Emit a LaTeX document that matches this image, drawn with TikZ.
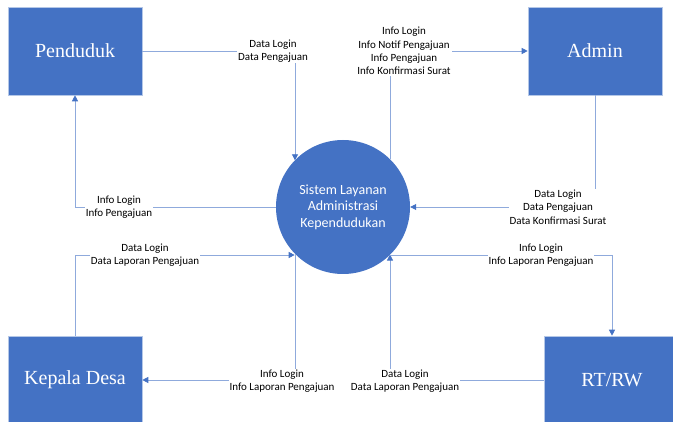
\documentclass[tikz,border=0pt]{standalone}
\usepackage{fontspec}
\setmainfont{Carlito}
\newfontfamily\entityfont{Liberation Serif}
\usetikzlibrary{arrows.meta}
\definecolor{officeblue}{HTML}{4472C4}
\definecolor{linkblue}{HTML}{8FAADC}
\definecolor{edgeblue}{HTML}{B4C7E7}

\begin{document}
\begin{tikzpicture}[x=1pt,y=-1pt,
		entity/.style={draw=edgeblue, line width=0.6pt, fill=officeblue, text=white,
			minimum width=134pt, minimum height=88pt, font=\entityfont\fontsize{20}{24}\selectfont},
		process/.style={circle, fill=officeblue, text=white, minimum size=134pt, inner sep=0pt,
			align=center, font=\fontsize{14}{16.5}\selectfont},
		flow/.style={draw=linkblue, line width=0.8pt, -{Triangle[length=6pt,width=6pt,color=officeblue]}},
		lbl/.style={fill=white, inner sep=1pt, align=center, font=\fontsize{11}{13.3}\selectfont}]
			\useasboundingbox (0,0) rectangle (673,422);
			% external entities and the process
			\node[entity] (penduduk) at (75,51) {Penduduk};
			\node[entity] (admin) at (595,51) {Admin};
			\node[entity] (kades) at (75,380) {Kepala Desa};
			\node[entity, minimum width=136pt] (rtrw) at (612,380) {RT/RW};
			\node[process] (sistem) at (343,207) {Sistem Layanan\\Administrasi\\Kependudukan};
			% corners of the flows
			\coordinate (c1) at (295,51);
			\coordinate (c2) at (75,207);
			\coordinate (c3) at (75,255);
			\coordinate (c4) at (295,380);
			\coordinate (c5) at (390,51);
			\coordinate (c6) at (595,207);
			\coordinate (c7) at (612,255);
			\coordinate (c8) at (390,380);
			% data flows
			\draw[flow] (penduduk.east) -- (c1) -- (c1 |- sistem.136);
			\draw[flow] (sistem.west) -- (c2) -- (penduduk.south);
			\draw[flow] (kades.north) -- (c3) -- (c3 -| sistem.224);
			\draw[flow] (c4 |- sistem.224) -- (c4) -- (kades.east);
			\draw[flow] (c5 |- sistem.45) -- (c5) -- (admin.west);
			\draw[flow] (admin.south) -- (c6) -- (sistem.east);
			\draw[flow] (sistem.315 |- c7) -- (c7) -- (rtrw.north);
			\draw[flow] (rtrw.west) -- (c8) -- (c8 |- sistem.315);
			% flow labels
			\node[lbl] (l1) at (273,51) {Data Login\\Data Pengajuan};
			\node[lbl] (l2) at (119,207) {Info Login\\Info Pengajuan};
			\node[lbl] (l3) at (145,255) {Data Login\\Data Laporan Pengajuan};
			\node[lbl] (l4) at (282,381) {Info Login\\Info Laporan Pengajuan};
			\node[lbl] (l5) at (404,51) {Info Login\\Info Notif Pengajuan\\Info Pengajuan\\Info Konfirmasi Surat};
			\node[lbl] (l6) at (558,207) {Data Login\\Data Pengajuan\\Data Konfirmasi Surat};
			\node[lbl] (l7) at (541,255) {Info Login\\Info Laporan Pengajuan};
			\node[lbl] (l8) at (405,381) {Data Login\\Data Laporan Pengajuan};
\end{tikzpicture}
\end{document}
